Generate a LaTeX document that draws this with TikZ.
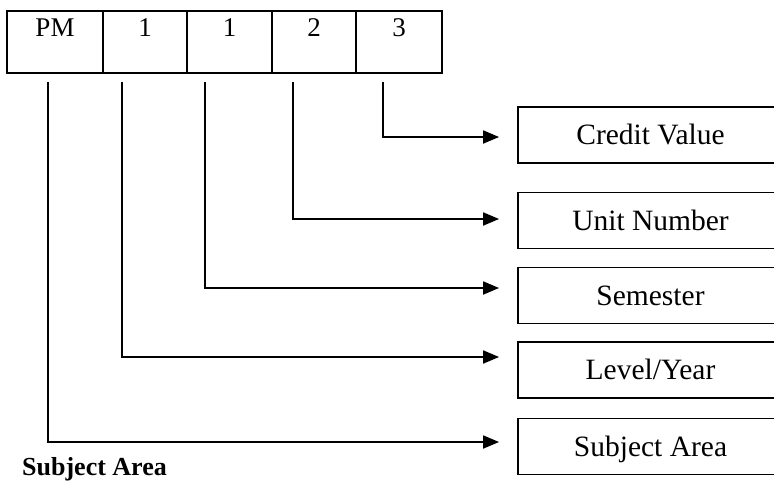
\documentclass[tikz,border=0pt]{standalone}
\usepackage{fontspec}
\setmainfont{Liberation Serif}
\usetikzlibrary{arrows.meta}
\begin{document}
\begin{tikzpicture}[x=1pt,y=-1pt,
  txt/.style={font=\fontsize{27}{32}\selectfont},
  cell/.style={draw,line width=1.8pt,txt,inner sep=0pt,text height=25pt,text depth=37pt},
  rbox/.style={draw,line width=1.8pt,font=\fontsize{29.5}{34}\selectfont,inner sep=0pt,minimum width=265pt,minimum height=56pt,text height=19.5pt,text depth=0pt},
  conn/.style={line width=1.8pt,-{Triangle[length=16pt,width=13pt]},shorten >=18pt}]
\useasboundingbox (0,0) rectangle (774,480);
% top cells
\node[cell,minimum width=96pt] (c1) at (55,42) {PM};
\node[cell,minimum width=84pt] (c2) at (145,42) {1};
\node[cell,minimum width=85pt] (c3) at (229.5,42) {1};
\node[cell,minimum width=84pt] (c4) at (314,42) {2};
\node[cell,minimum width=86pt] (c5) at (399,42) {3};
% right boxes
\node[rbox] (cv) at (650.5,135) {Credit Value};
\node[rbox] (un) at (650.5,220.5) {Unit Number};
\node[rbox] (se) at (650.5,295.5) {Semester};
\node[rbox] (ly) at (650.5,370) {Level/Year};
\node[rbox] (sa) at (650.5,446.5) {Subject Area};
% connector starts
\coordinate (s1) at (48,82);
\coordinate (s2) at (122,82);
\coordinate (s3) at (205,82);
\coordinate (s4) at (293,82);
\coordinate (s5) at (383,82);
\draw[conn] (s5) |- ([yshift=-2pt]cv.west);
\draw[conn] (s4) |- ([yshift=1.5pt]un.west);
\draw[conn] (s3) |- ([yshift=7.5pt]se.west);
\draw[conn] (s2) |- ([yshift=13pt]ly.west);
\draw[conn] (s1) |- ([yshift=4.5pt]sa.west);
\node[font=\fontsize{26}{30}\selectfont\bfseries,anchor=base west,inner sep=0pt] (lbl) at (22,475) {Subject Area};
\end{tikzpicture}
\end{document}
